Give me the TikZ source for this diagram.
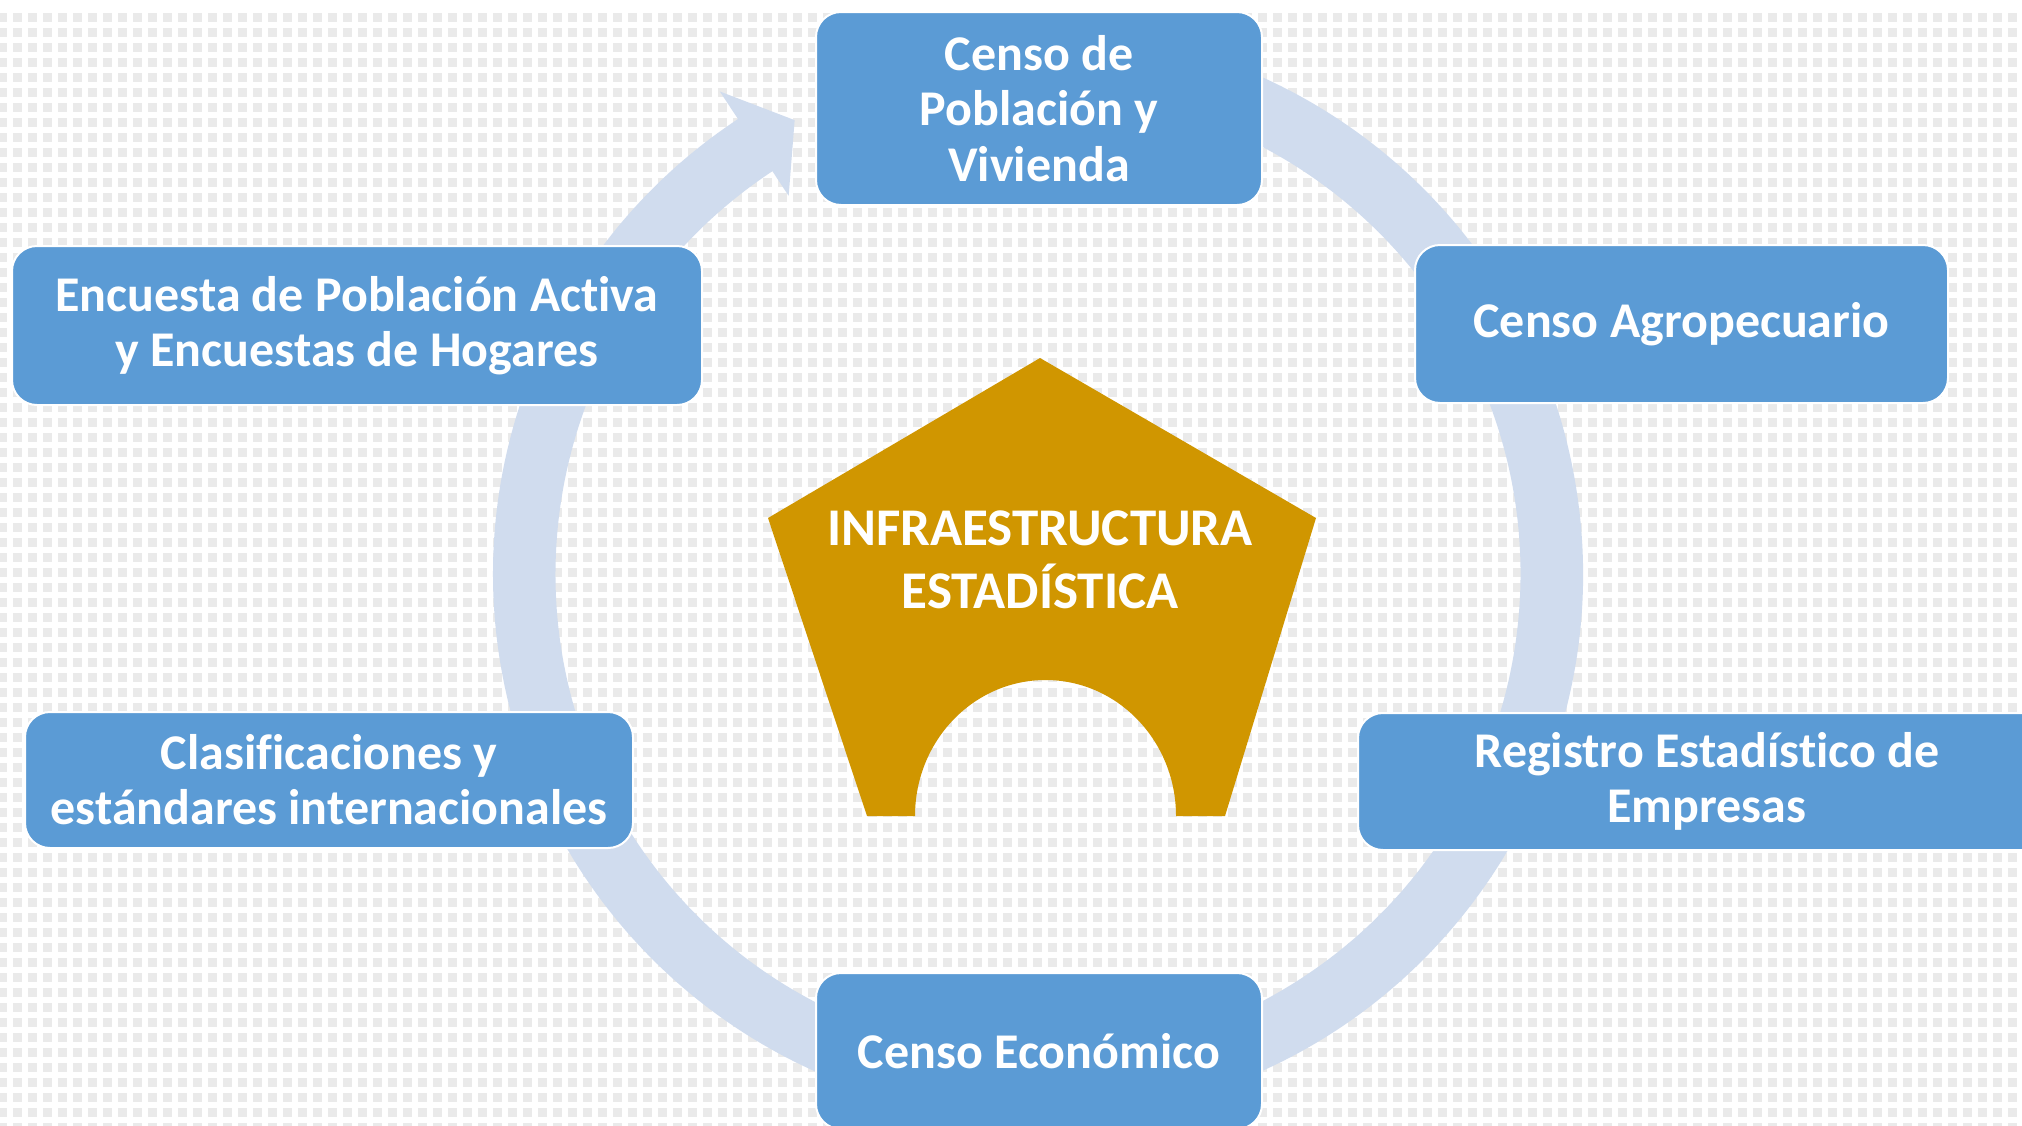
\documentclass[tikz,border=0pt]{standalone}
\usepackage{fontspec}
\setmainfont{Carlito}[Ligatures={NoCommon,NoRare,NoContextual}]
\usetikzlibrary{calc}
\definecolor{boxblue}{HTML}{5B9BD5}
\definecolor{ringblue}{HTML}{D0DCEE}
\definecolor{pentgold}{HTML}{D09600}
\definecolor{bgsq}{HTML}{EAEAEA}
\begin{document}
\begin{tikzpicture}[x=0.5pt,y=-0.5pt,
  bgrow/.style={draw=bgsq, line width=4.5pt, dash pattern=on 4.5pt off 3pt},
  boxnode/.style={draw=white, line width=1pt, fill=boxblue, rounded corners=12.5pt,
    text=white, align=center, inner sep=0pt,
    font=\fontsize{25}{27.6}\selectfont\bfseries},
  ringfill/.style={fill=ringblue},
  pentfill/.style={fill=pentgold},
  centertext/.style={text=white, align=center, inner sep=0pt,
    font=\fontsize{26.5}{31.5}\selectfont\bfseries}]
\useasboundingbox (0,0) rectangle (2022,1125);
\clip (0,0) rectangle (2022,1125);
\fill[white] (0,0) rectangle (2022,1125);
% background square pattern
\foreach \k in {0,...,74}{
  \draw[bgrow] (-2,{17+15*\k}) -- (2030,{17+15*\k});
}
% circular arrow
\coordinate (c) at (1038,574);
\fill[ringfill] ($(c)+(-100:545)$) arc[start angle=-100, end angle=236.6, radius=545]
  -- ($(c)+(236.6:578)$) -- ($(c)+(241.8:515)$) -- ($(c)+(236.6:453)$)
  -- ($(c)+(236.6:482.5)$) arc[start angle=236.6, end angle=-100, radius=482.5] -- cycle;
% pentagon
\coordinate (pa) at (1040,358);
\coordinate (pr) at (1316,518);
\coordinate (pbr) at (1225,816);
\coordinate (pbl) at (867,816);
\coordinate (pl) at (768,518);
\fill[pentfill] (pa) -- (pr) -- (pbr) -- (1176,816)
  arc[start angle=0, end angle=-180, x radius=130.5, y radius=136]
  -- (pbl) -- (pl) -- cycle;
\node[centertext] (infra) at (1040,560) {INFRAESTRUCTURA\\ESTADÍSTICA};
% boxes
\node[boxnode, minimum width=223pt, minimum height=96.5pt] (pop) at (1039,108.5) {Censo de\\Población y\\Vivienda};
\node[boxnode, minimum width=266.5pt, minimum height=79pt] (agro) at (1681.5,324) {Censo Agropecuario};
\node[boxnode, minimum width=349pt, minimum height=68.5pt] (reg) at (1707,781.5) {Registro Estadístico de\\Empresas};
\node[boxnode, minimum width=223pt, minimum height=78pt] (eco) at (1039,1051) {Censo Económico};
\node[boxnode, minimum width=304pt, minimum height=68pt] (clas) at (329,780) {Clasificaciones y\\estándares internacionales};
\node[boxnode, minimum width=345pt, minimum height=79.5pt] (enc) at (357,325.5) {Encuesta de Población Activa\\y Encuestas de Hogares};
\end{tikzpicture}
\end{document}
